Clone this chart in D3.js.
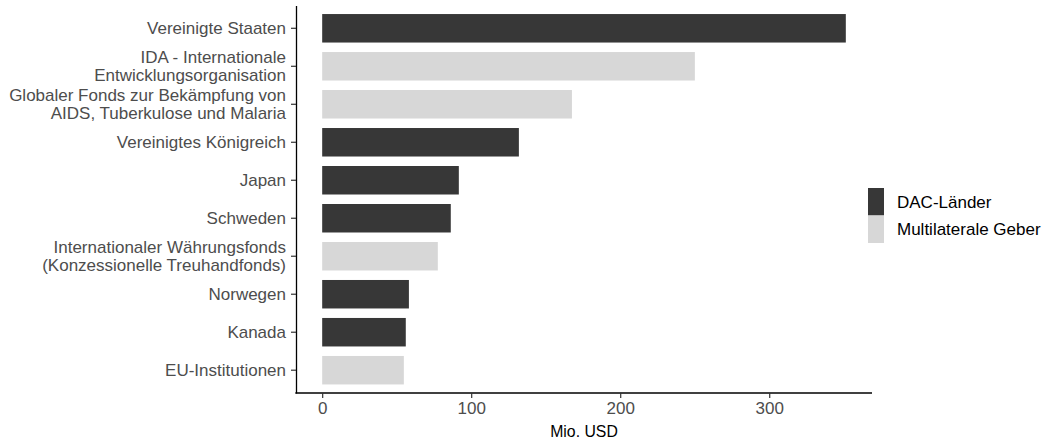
<!DOCTYPE html>
<html>
<head>
<meta charset="utf-8">
<script src="https://cdn.jsdelivr.net/npm/d3@7"></script>
<style>
  body { margin: 0; background: #fff; }
  text { font-family: "Liberation Sans", Arial, sans-serif; }
</style>
</head>
<body>
<svg id="chart"></svg>
<script>
// Data (Mio. USD), top to bottom
const donors = [
  'Vereinigte Staaten',
  'IDA - Internationale\nEntwicklungsorganisation',
  'Globaler Fonds zur Bekämpfung von\nAIDS, Tuberkulose und Malaria',
  'Vereinigtes Königreich',
  'Japan',
  'Schweden',
  'Internationaler Währungsfonds\n(Konzessionelle Treuhandfonds)',
  'Norwegen',
  'Kanada',
  'EU-Institutionen'
]
const amounts = [351.4, 250.1, 167.6, 132.0, 91.7, 86.3, 77.6, 58.2, 56.1, 54.8]
const groups = ['DAC', 'Multi', 'Multi', 'DAC', 'DAC', 'DAC', 'Multi', 'DAC', 'DAC', 'Multi']
const groupKeys = ['DAC', 'Multi']
const groupLabels = ['DAC-Länder', 'Multilaterale Geber']
const xTicks = [0, 100, 200, 300]

const width = 1043
const height = 442
const panel = { left: 296, right: 872, top: 5.5, bottom: 393 }
const fontSize = 17
const titleSize = 15.8
const lineGap = 17.5

const data = donors.map((d, i) => ({ donor: d, value: amounts[i], group: groups[i] }))

const svg = d3.select('#chart')
  .attr('width', width)
  .attr('height', height)

const color = d3.scaleOrdinal()
  .domain(groupKeys)
  .range(['#373737', '#d7d7d7'])

// ggplot style 5% expansion
const maxVal = d3.max(amounts)
const pad = maxVal * 0.05
const x = d3.scaleLinear()
  .domain([-pad, maxVal + pad])
  .range([panel.left, panel.right])

const y = d3.scaleBand()
  .domain(donors)
  .range([panel.top, panel.bottom])
  .paddingInner(0.25)
  .paddingOuter(0.225)

// Bars
svg.append('g')
  .selectAll('rect')
  .data(data)
  .join('rect')
  .attr('x', x(0))
  .attr('y', d => y(d.donor))
  .attr('width', d => x(d.value) - x(0))
  .attr('height', y.bandwidth())
  .attr('fill', d => color(d.group))

// Y axis
const yAxis = svg.append('g')
  .attr('transform', `translate(${panel.left},0)`)
  .call(d3.axisLeft(y).tickSize(5).tickPadding(8).tickSizeOuter(0))
yAxis.select('.domain').attr('stroke', '#000').attr('stroke-width', 1.3)
yAxis.selectAll('.tick line').attr('stroke', '#333').attr('stroke-width', 1.2)
yAxis.selectAll('.tick text').each(function(d) {
  const lines = d.split('\n')
  const t = d3.select(this)
    .text(null)
    .attr('fill', '#4d4d4d')
    .attr('font-size', fontSize)
    .attr('dy', null)
  lines.forEach((line, i) => {
    t.append('tspan')
      .attr('x', -10)
      .attr('y', (i - (lines.length - 1) / 2) * lineGap)
      .attr('dy', '0.35em')
      .text(line)
  })
})

// X axis
const xAxis = svg.append('g')
  .attr('transform', `translate(0,${panel.bottom})`)
  .call(d3.axisBottom(x).tickValues(xTicks).tickSize(5).tickPadding(4).tickSizeOuter(0))
xAxis.select('.domain')
  .attr('stroke', '#000')
  .attr('stroke-width', 1.3)
  .attr('d', `M${panel.left - 0.65},0H${panel.right}`)
xAxis.selectAll('.tick line').attr('stroke', '#333').attr('stroke-width', 1.2)
xAxis.selectAll('.tick text')
  .attr('fill', '#4d4d4d')
  .attr('font-size', fontSize)

// Axis title
svg.append('text')
  .attr('x', (panel.left + panel.right) / 2)
  .attr('y', 437)
  .attr('text-anchor', 'middle')
  .attr('font-size', titleSize)
  .attr('fill', '#000')
  .text('Mio. USD')

// Legend
const keyW = 16
const keyH = 27.5
const legend = svg.append('g')
  .attr('transform', 'translate(868,188)')

legend.selectAll('rect')
  .data(groupKeys)
  .join('rect')
  .attr('x', 0)
  .attr('y', (d, i) => i * keyH)
  .attr('width', keyW)
  .attr('height', keyH)
  .attr('fill', d => color(d))

legend.selectAll('text')
  .data(groupLabels)
  .join('text')
  .attr('x', 29)
  .attr('y', (d, i) => i * keyH + keyH / 2)
  .attr('dy', '0.35em')
  .attr('font-size', fontSize)
  .attr('fill', '#000')
  .text(d => d)
</script>
</body>
</html>
